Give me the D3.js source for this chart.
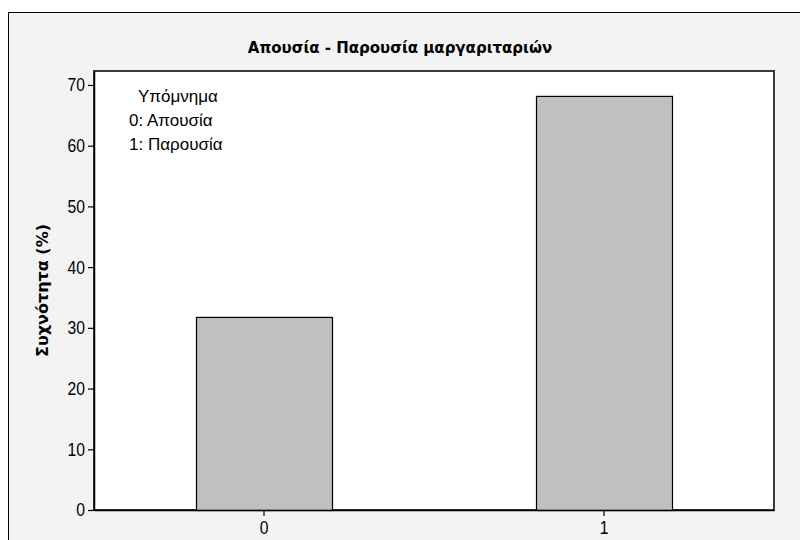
<!DOCTYPE html>
<html>
<head>
<meta charset="utf-8">
<script src="https://cdn.jsdelivr.net/npm/d3@7"></script>
<style>
  html, body { margin: 0; padding: 0; background: #ffffff; }
  svg { display: block; }
</style>
</head>
<body>
<svg id="chart" width="800" height="540"></svg>
<script>
const categories = ["0", "1"];
const values = [31.8, 68.2];
const yTicks = [0, 10, 20, 30, 40, 50, 60, 70];
const titleText = "Απουσία - Παρουσία μαργαριταριών";
const yTitleText = "Συχνότητα (%)";
const legendTitle = "Υπόμνημα";
const legendLines = ["0: Απουσία", "1: Παρουσία"];

const svg = d3.select("#chart");
const sans = "'Liberation Sans', Arial, sans-serif";
const boldFont = "'DejaVu Sans', Verdana, sans-serif";
const squeeze = 0.85;

// outer frame
svg.append("rect").attr("x", 8.5).attr("y", 12.5).attr("width", 900).attr("height", 600)
  .attr("fill", "#f3f3f3").attr("stroke", "#000").attr("stroke-width", 1);

const plot = { left: 94, right: 774, top: 71, bottom: 510 };

const x = d3.scaleBand().domain(categories).range([plot.left, plot.right])
  .paddingInner(0.6).paddingOuter(0.3);
const y = d3.scaleLinear().domain([0, 72.3]).range([plot.bottom, plot.top]);

// plot area
svg.append("rect").attr("x", plot.left).attr("y", plot.top)
  .attr("width", plot.right - plot.left).attr("height", plot.bottom - plot.top)
  .attr("fill", "#ffffff").attr("stroke", "#3a3a3a").attr("stroke-width", 2);

// bars
svg.append("g").selectAll("rect").data(categories).join("rect")
  .attr("x", d => x(d) + 0.5)
  .attr("y", (d, i) => y(values[i]) + 0.5)
  .attr("width", x.bandwidth())
  .attr("height", (d, i) => y(0) - y(values[i]))
  .attr("fill", "#c0c0c0").attr("stroke", "#000").attr("stroke-width", 1.2);

// y axis
const yAxis = svg.append("g").attr("transform", `translate(${plot.left},0)`)
  .call(d3.axisLeft(y).tickValues(yTicks).tickSize(6).tickSizeOuter(0).tickPadding(3).tickFormat(d3.format("d")));
yAxis.select(".domain").attr("stroke", "#000").attr("stroke-width", 1.5);
yAxis.selectAll(".tick line").attr("stroke", "#000").attr("stroke-width", 1.2);
yAxis.selectAll(".tick text").attr("font-family", sans).attr("font-size", 18.5).attr("fill", "#000")
  .attr("x", -9 / squeeze).attr("transform", `scale(${squeeze},1)`);

// x axis
const xAxis = svg.append("g").attr("transform", `translate(0,${plot.bottom})`)
  .call(d3.axisBottom(x).tickSize(6).tickSizeOuter(0).tickPadding(5));
xAxis.select(".domain").attr("stroke", "#000").attr("stroke-width", 1.5);
xAxis.selectAll(".tick line").attr("stroke", "#000").attr("stroke-width", 1.2);
xAxis.selectAll(".tick text").attr("font-family", sans).attr("font-size", 18.5).attr("fill", "#000")
  .attr("transform", `scale(${squeeze},1)`);

// title
svg.append("text").attr("x", 400).attr("y", 53).attr("text-anchor", "middle")
  .attr("font-family", boldFont).attr("font-weight", "bold").attr("font-size", 15)
  .attr("fill", "#000").text(titleText);

// y title
svg.append("text").attr("transform", `translate(48,${(plot.top + plot.bottom) / 2}) rotate(-90)`)
  .attr("text-anchor", "middle")
  .attr("font-family", boldFont).attr("font-weight", "bold").attr("font-size", 16)
  .attr("fill", "#000").text(yTitleText);

// legend text
svg.append("text").attr("x", 138).attr("y", 102)
  .attr("font-family", sans).attr("font-size", 17).attr("fill", "#000").text(legendTitle);
svg.append("g").selectAll("text").data(legendLines).join("text")
  .attr("x", 129).attr("y", (d, i) => 126 + i * 24)
  .attr("font-family", sans).attr("font-size", 17).attr("fill", "#000").text(d => d);
</script>
</body>
</html>
